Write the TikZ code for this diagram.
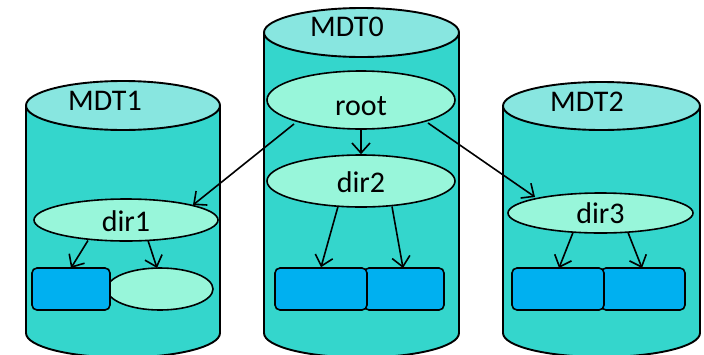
\documentclass[tikz,border=0pt]{standalone}
\usepackage{fontspec}
\setmainfont{Carlito}
\usetikzlibrary{arrows.meta,shapes.geometric}
\definecolor{cylbody}{RGB}{52,214,204}
\definecolor{cyltop}{RGB}{136,230,224}
\definecolor{mint}{RGB}{152,246,218}
\definecolor{boxblue}{RGB}{0,176,240}
\tikzset{
  cylline/.style={draw=black, line width=1.9pt},
  dirnode/.style={ellipse, draw=black, line width=1.6pt, fill=mint, inner sep=0pt, text height=22pt, text depth=0pt, font=\fontsize{30}{35}\selectfont},
  filebox/.style={rectangle, rounded corners=5pt, draw=black, line width=1.6pt, fill=boxblue, inner sep=0pt},
  lbl/.style={font=\fontsize{30}{35}\selectfont, inner sep=0pt, anchor=base},
  arr/.style={line width=1.6pt, -{Straight Barb[length=10pt,width=18pt,line width=1.6pt]}}
}
\newcommand{\mycyl}[5]{% cx, rx, topy, boty, ry
  \fill[cylbody] (#1-#2,#3) -- (#1-#2,#4) arc[start angle=180,end angle=0,x radius=#2,y radius=#5] -- (#1+#2,#3) -- cycle;
  \draw[cylline] (#1-#2,#3) -- (#1-#2,#4) arc[start angle=180,end angle=0,x radius=#2,y radius=#5] -- (#1+#2,#3);
  \draw[cylline, fill=cyltop] (#1,#3) ellipse[x radius=#2, y radius=#5];
}
\begin{document}
\begin{tikzpicture}[x=1pt,y=-1pt]
\useasboundingbox (0,0) rectangle (704,354);
\clip (0,0) rectangle (704,354);
% cylinders
\mycyl{123}{97}{105.5}{333}{24.5}
\mycyl{361.5}{97.5}{32.5}{333}{24.5}
\mycyl{601.5}{98.5}{106}{333}{24}
\node[lbl] (t1) at (105,110) {MDT1};
\node[lbl] (t0) at (347,36) {MDT0};
\node[lbl] (t2) at (587,111) {MDT2};
% directory ellipses
\node[dirnode, minimum width=188pt, minimum height=58pt, text height=30pt] (root) at (361,100) {root};
\node[dirnode, minimum width=188pt, minimum height=52pt] (dir2) at (361,181) {dir2};
\node[dirnode, minimum width=184pt, minimum height=42pt] (dir1) at (126,220) {dir1};
\node[dirnode, minimum width=185pt, minimum height=40pt, text height=20pt] (dir3) at (600.5,213) {dir3};
% MDT1 contents
\node[dirnode, minimum width=106pt, minimum height=42pt] (e1) at (160,289) {};
\node[filebox, minimum width=78pt, minimum height=42pt] (b1) at (71,289) {};
% MDT0 contents
\node[filebox, minimum width=80pt, minimum height=42pt] (b0r) at (404,289) {};
\node[filebox, minimum width=92pt, minimum height=42pt] (b0l) at (321,289) {};
% MDT2 contents
\node[filebox, minimum width=84pt, minimum height=42pt] (b2r) at (643,289) {};
\node[filebox, minimum width=92pt, minimum height=42pt] (b2l) at (558,289) {};
% connectors
\coordinate (s1) at (88,240.5);
\coordinate (a1) at (71,268);
\coordinate (s2) at (148,240.5);
\coordinate (a2) at (157,268);
\draw[arr] (s1) -- (a1);
\draw[arr] (s2) -- (a2);
\draw[arr] (root.south) -- (dir2.north);
\coordinate (s3) at (338,206.5);
\coordinate (s4) at (392,206.5);
\coordinate (a4) at (403,268);
\draw[arr] (s3) -- (b0l.north);
\draw[arr] (s4) -- (a4);
\coordinate (s5) at (573,232.5);
\coordinate (a5) at (559,268);
\coordinate (s6) at (628,232.5);
\coordinate (a6) at (642,268);
\draw[arr] (s5) -- (a5);
\draw[arr] (s6) -- (a6);
\coordinate (r1) at (294,124);
\coordinate (d1) at (193,205);
\coordinate (r2) at (428,123);
\coordinate (d3) at (535,197);
\draw[arr] (r1) -- (d1);
\draw[arr] (r2) -- (d3);
\end{tikzpicture}
\end{document}
